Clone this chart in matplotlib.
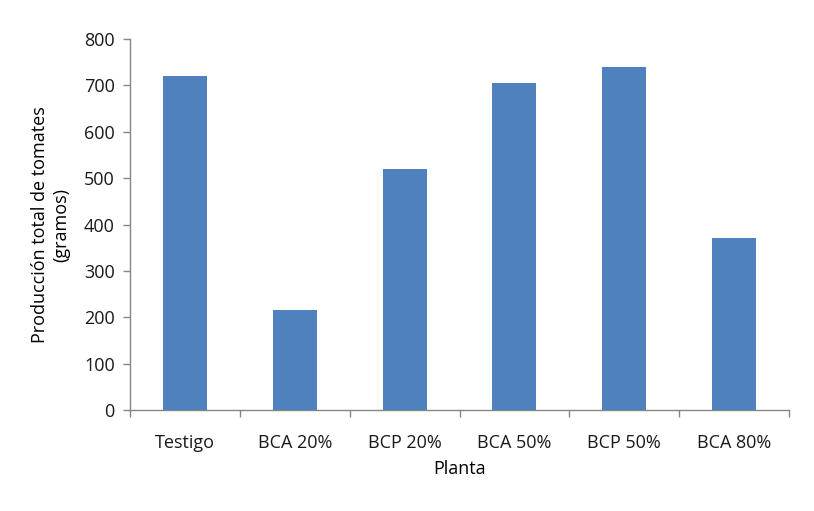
import matplotlib
matplotlib.use('Agg')
import matplotlib.pyplot as plt
import numpy as np

plantas = ["Testigo", "BCA 20%", "BCP 20%", "BCA 50%", "BCP 50%", "BCA 80%"]
produccion = [720, 215, 520, 705, 740, 370]

plt.rcParams['font.family'] = ['Open Sans', 'DejaVu Sans']

fig = plt.figure(figsize=(8.14, 5.11), dpi=100)
ax = fig.add_axes([130 / 814, 101 / 511, 659 / 814, 371 / 511])

x = np.arange(len(plantas))
ax.bar(x, produccion, width=0.4, color='#4F81BD', zorder=3)

ax.set_xlim(-0.5, len(plantas) - 0.5)
ax.set_ylim(0, 800)
ax.set_yticks(range(0, 801, 100))

# category labels centered, ticks between categories
ax.set_xticks(x)
ax.set_xticklabels(plantas)
ax.set_xticks(np.arange(-0.5, len(plantas), 1), minor=True)
ax.tick_params(axis='x', which='major', length=0, pad=17, labelsize=13, colors='#1a1a1a')
ax.tick_params(axis='x', which='minor', length=5, color='#868686', width=1)
ax.tick_params(axis='y', length=5, color='#868686', width=1, labelsize=13, labelcolor='#1a1a1a', pad=6)

for s in ['top', 'right']:
    ax.spines[s].set_visible(False)
for s in ['left', 'bottom']:
    ax.spines[s].set_color('#868686')
    ax.spines[s].set_linewidth(1)

ax.set_xlabel("Planta", fontsize=13, labelpad=6)
ax.set_ylabel("Producción total de tomates\n(gramos)", fontsize=13, labelpad=10, linespacing=1.2)

plt.savefig('out.png', dpi=100)
